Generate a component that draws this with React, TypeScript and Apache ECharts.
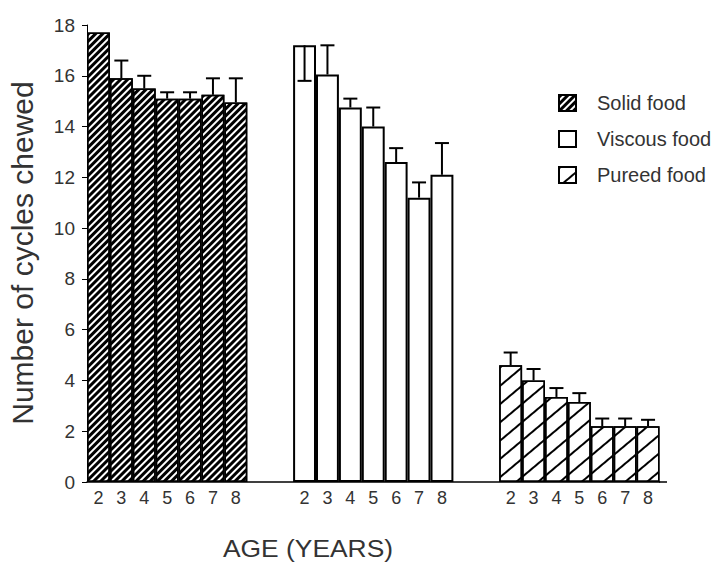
import React, { useEffect, useRef } from "react";
import * as echarts from "echarts";

const ages = ["2", "3", "4", "5", "6", "7", "8"];
const groupNames = ["Solid food", "Viscous food", "Pureed food"];
const solidFood = [17.7, 15.9, 15.5, 15.1, 15.1, 15.25, 14.95];
const solidErrEnd: (number | null)[] = [null, 16.6, 16.0, 15.35, 15.35, 15.9, 15.9];
const viscousFood = [17.2, 16.05, 14.75, 14.0, 12.6, 11.2, 12.1];
const viscousErrEnd: (number | null)[] = [15.8, 17.2, 15.1, 14.75, 13.15, 11.8, 13.35];
const pureedFood = [4.6, 4.0, 3.35, 3.15, 2.2, 2.2, 2.2];
const pureedErrEnd: (number | null)[] = [5.1, 4.45, 3.7, 3.5, 2.5, 2.5, 2.45];
const yTicks = { min: 0, max: 18, interval: 2 };

const GAP = 2;
const FONT = "'Liberation Sans', Arial, sans-serif";

export default function App() {
  const ref = useRef<HTMLDivElement>(null);
  useEffect(() => {
    if (!ref.current) return;
    const chart = echarts.init(ref.current, null, { renderer: "svg" });

    const categories: string[] = [];
    const offsets: number[] = [];
    for (let g = 0; g < 3; g++) {
      offsets.push(categories.length);
      categories.push(...ages);
      if (g < 2) for (let k = 0; k < GAP; k++) categories.push("");
    }
    const total = categories.length;
    const values = [solidFood, viscousFood, pureedFood];
    const errs = [solidErrEnd, viscousErrEnd, pureedErrEnd];

    const seriesData = values.map((vals, g) => {
      const arr: any[] = new Array(total).fill("-");
      vals.forEach((v, i) => (arr[offsets[g] + i] = v));
      return arr;
    });

    const errData: number[][] = [];
    errs.forEach((e, g) => {
      e.forEach((end, i) => {
        if (end != null) errData.push([offsets[g] + i, values[g][i], end]);
      });
    });

    const decals: any[] = [
      {
        symbol: "rect",
        symbolSize: 1,
        dashArrayX: [1, 0],
        dashArrayY: [2.8, 1.9],
        rotation: -Math.PI / 4,
        color: "#000",
      },
      null,
      {
        symbol: "rect",
        symbolSize: 1,
        dashArrayX: [1, 0],
        dashArrayY: [1.3, 12],
        rotation: -(40 * Math.PI) / 180,
        color: "#000",
      },
    ];

    const barSeries = groupNames.map((name, g) => ({
      name,
      type: "bar",
      data: seriesData[g],
      barGap: "-100%",
      barCategoryGap: "0%",
      itemStyle: {
        color: "#fff",
        borderColor: "#000",
        borderWidth: g === 1 ? 2 : 1.5,
        decal: decals[g] || undefined,
      },
      z: 2,
    }));

    chart.setOption({
      animation: false,
      backgroundColor: "#fff",
      textStyle: { fontFamily: FONT },
      grid: { left: 87, top: 25, width: 25 * 22.9, bottom: 86, containLabel: false },
      legend: {
        data: groupNames,
        orient: "vertical",
        left: 553,
        top: 88,
        itemWidth: 17,
        itemHeight: 16,
        itemGap: 16,
        icon: "rect",
        textStyle: { fontSize: 20, color: "#333", fontFamily: FONT, padding: [0, 0, 0, 16] },
      },
      xAxis: {
        type: "category",
        data: categories,
        axisLine: { show: true, lineStyle: { color: "#000", width: 1.5 } },
        axisTick: { show: false },
        axisLabel: { interval: 0, fontSize: 18, color: "#333", margin: 7, fontFamily: FONT },
      },
      yAxis: {
        type: "value",
        min: yTicks.min,
        max: yTicks.max,
        interval: yTicks.interval,
        splitLine: { show: false },
        axisLine: { show: true, lineStyle: { color: "#000", width: 1 } },
        axisTick: { show: true, length: 5, lineStyle: { color: "#000" } },
        axisLabel: { fontSize: 19, color: "#333", margin: 12, fontFamily: FONT },
      },
      graphic: [
        {
          type: "line",
          shape: { x1: 659, y1: 482, x2: 667, y2: 482 },
          style: { stroke: "#000", lineWidth: 1.5 },
        },
        {
          type: "text",
          x: 22,
          y: 253,
          rotation: Math.PI / 2,
          style: {
            text: "Number of cycles chewed",
            fontSize: 30,
            fill: "#333",
            fontFamily: FONT,
            align: "center",
            verticalAlign: "middle",
          },
        },
        {
          type: "text",
          x: 308,
          y: 548,
          scaleX: 1.1,
          style: {
            text: "AGE (YEARS)",
            fontSize: 24,
            fill: "#333",
            fontFamily: FONT,
            align: "center",
            verticalAlign: "middle",
          },
        },
      ],
      series: [
        ...barSeries,
        {
          type: "custom",
          name: "err",
          data: errData,
          encode: { x: 0, y: [1, 2] },
          z: 5,
          renderItem: (params: any, api: any) => {
            const idx = api.value(0);
            const p0 = api.coord([idx, api.value(1)]);
            const p1 = api.coord([idx, api.value(2)]);
            const half = 7;
            return {
              type: "group",
              children: [
                {
                  type: "line",
                  shape: { x1: p0[0], y1: p0[1], x2: p1[0], y2: p1[1] },
                  style: { stroke: "#000", lineWidth: 2 },
                },
                {
                  type: "line",
                  shape: { x1: p1[0] - half, y1: p1[1], x2: p1[0] + half, y2: p1[1] },
                  style: { stroke: "#000", lineWidth: 2 },
                },
              ],
            };
          },
        },
      ],
    });
    return () => chart.dispose();
  }, []);
  return (
    <div
      ref={ref}
      style={{ position: "fixed", left: 0, top: 0, width: 720, height: 568 }}
    />
  );
}
